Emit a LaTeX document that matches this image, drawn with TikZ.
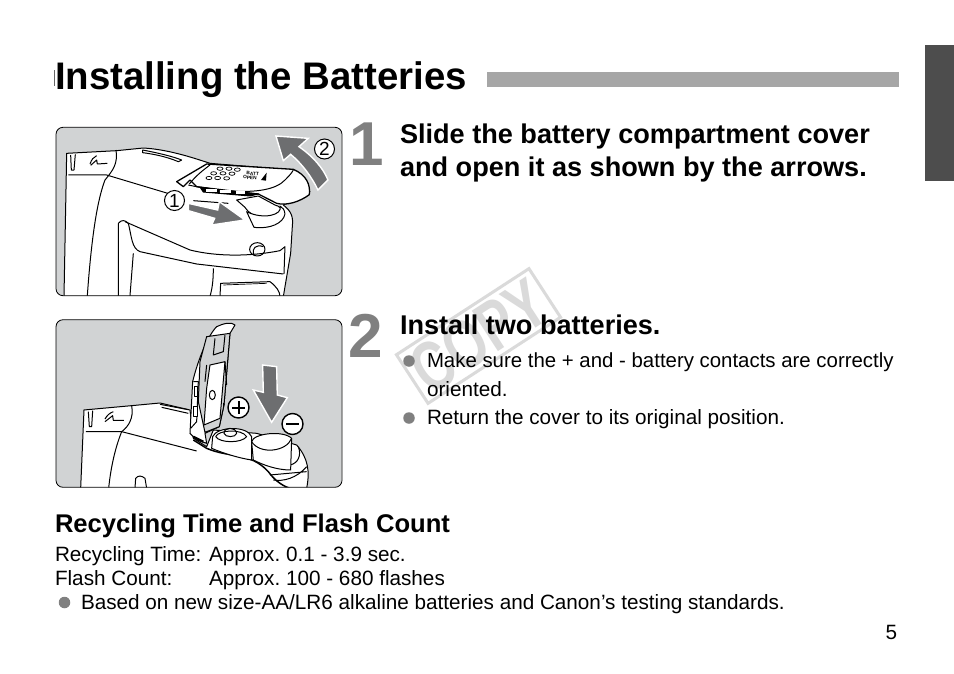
\documentclass[tikz,border=0pt]{standalone}
\usepackage{fontspec}
\setmainfont{Liberation Sans}
\newcommand{\fsz}[1]{\fontsize{#1pt}{#1pt}\selectfont}
\frenchspacing
\tikzset{
  txt/.style={anchor=base west,inner sep=0pt,outer sep=0pt,text=black},
  title/.style={txt,font=\fsz{38.4}\bfseries},
  head/.style={txt,font=\fsz{27.1}\bfseries},
  sub/.style={txt,font=\fsz{25.6}\bfseries},
  body/.style={txt,font=\fsz{20.7}},
  small/.style={txt,font=\fsz{20.7}},
  bignum/.style={anchor=base,inner sep=0pt,text=numgray,font=\fsz{62}\bfseries},
  bullet/.style={circle,fill=numgray,minimum size=11.5pt,inner sep=0pt},
  photo/.style={draw=black,line width=.8pt,fill=photogray,rounded corners=7pt},
  ink/.style={draw=black,line width=1pt,line join=round},
  thin/.style={draw=black,line width=.7pt,line join=round},
  arrowshape/.style={fill=arrowgray,draw=white,line width=1.4pt,line join=miter},
  circnum/.style={circle,draw=black,line width=1pt,fill=white,minimum size=20pt,inner sep=0pt,font=\fsz{19}},
  zoomA/.style={shift={(50,120)},x=.3333pt,y=-.3333pt},
  zoomB/.style={shift={(50,315)},x=.3333pt,y=-.3333pt},
}
\definecolor{numgray}{HTML}{808080}
\definecolor{photogray}{HTML}{D1D3D4}
\definecolor{arrowgray}{HTML}{6D6E70}
\definecolor{bargray}{HTML}{A6A6A6}
\definecolor{tabgray}{HTML}{4D4D4D}
\definecolor{wm}{HTML}{DADADA}
\begin{document}
\begin{tikzpicture}[x=1pt,y=-1pt]
\useasboundingbox (0,0) rectangle (954,673);
\fill[white] (0,0) rectangle (954,673);
% header
\fill[tabgray] (925,45) rectangle (954,181);
\fill[bargray] (487,72) rectangle (899,87);
\fill[black!60] (54,70) rectangle (55,86);
\node[title] (title) at (55,89) {Installing the Batteries};

% ---------- watermark
\begin{scope}[shift={(478.5,336)},rotate=33]
  \draw[wm,line width=3pt] (-79,-29) rectangle (79,29);
  \node[inner sep=0pt,text=wm,font=\fsz{70}\bfseries,rotate=33,xscale=.74] (copy) at (0,0) {COPY};
\end{scope}

% ---------- photo 1
\begin{scope}[zoomA]
  \path[clip,rounded corners=7pt] (18,22) rectangle (875,527);
  \fill[photogray] (18,22) rectangle (875,527);
  % body
  \path[ink,fill=white] (42,530) -- (50,100) -- (200,92) -- (280,84) .. controls (350,88) and (420,110) .. (480,130)
     -- (725,150) -- (780,215) -- (700,255) .. controls (725,275) and (730,290) .. (727,320)
     -- (722,400) -- (700,530) -- cycle;
  \draw[ink] (62,105) -- (64,150) -- (72,150) -- (76,103);
  \draw[ink] (55,165) -- (170,165) -- (380,228) (430,242) -- (535,250);
  \draw[ink] (198,90) .. controls (204,130) and (190,150) .. (165,180) .. controls (150,220) and (128,300) .. (112,527);
  \draw[ink] (278,90) .. controls (330,100) and (370,110) .. (395,120) -- (385,125) .. controls (350,110) and (310,102) .. (278,98) -- cycle;
  \draw[ink] (120,132) .. controls (125,118) and (130,112) .. (140,107) (122,136) -- (140,120) -- (142,132) -- (172,130);
  \draw[ink] (205,310) -- (205,527) (205,310) .. controls (215,298) and (225,300) .. (235,310)
     .. controls (245,350) and (245,385) .. (270,395) -- (440,432) -- (700,462);
  \draw[ink] (225,305) -- (420,390) .. controls (500,410) and (600,410) .. (690,392);
  \draw[ink] (250,400) -- (240,527) (490,445) .. controls (490,490) and (485,510) .. (480,530);
  \draw[ink] (510,530) -- (512,490) -- (660,485) .. controls (680,500) and (690,515) .. (690,530);
  \draw[thin] (520,495) -- (650,490);
  \draw[ink] (690,392) -- (705,380) -- (702,462);
  \draw[ink] (622,388) circle[x radius=23,y radius=20];
  \draw[ink] (610,403) .. controls (606,385) and (618,372) .. (640,380);
  % compartment opening
  \path[ink,fill=white] (585,262) .. controls (610,300) and (660,300) .. (690,280) .. controls (700,270) and (690,258) .. (675,255)
     -- (625,228) -- (560,240) -- cycle;
  \path[ink,fill=white] (590,275) -- (612,322) .. controls (660,328) and (700,310) .. (705,282) .. controls (704,270) and (698,262) .. (690,258)
     .. controls (700,285) and (640,300) .. (590,275) -- cycle;
  % cover
  \path[ink,fill=white,line width=1.3pt] (380,185) -- (470,132) -- (730,148) .. controls (770,165) and (782,195) .. (778,224)
      .. controls (750,245) and (710,258) .. (680,250) -- (625,222) -- (520,212) -- (440,200) -- (420,180) -- (400,200) -- cycle;
  \draw[ink] (418,192) .. controls (440,165) and (460,150) .. (480,135);
  \draw[ink] (415,195) .. controls (460,205) and (650,240) .. (705,180) .. controls (715,170) and (725,160) .. (730,150);
  \path[ink,fill=black] (450,201) -- (625,222) -- (600,228) -- (460,216) -- cycle;
  \path[draw=white,fill=white] (470,208) rectangle (500,214) (510,211) rectangle (540,217) (560,213) rectangle (582,219);
  \draw[thin] (510,146) ellipse[x radius=9,y radius=5] (537,146) ellipse[x radius=9,y radius=5] (562,149) ellipse[x radius=9,y radius=5]
     (491,160) ellipse[x radius=9,y radius=5] (519,160) ellipse[x radius=9,y radius=5] (546,161) ellipse[x radius=9,y radius=5]
     (477,174) ellipse[x radius=9,y radius=5] (503,174) ellipse[x radius=9,y radius=5] (530,175) ellipse[x radius=9,y radius=5];
  \node[inner sep=0pt,font=\fsz{4.8}\bfseries,rotate=-4] (batt) at (608,161) {BATT};
  \node[inner sep=0pt,font=\fsz{4.8}\bfseries,rotate=-4] (open) at (600,173) {OPEN};
  \fill[black] (633,180) -- (650,158) -- (648,182) -- cycle;
  % arrows
  \path[arrowshape] (415,250) -- (503,270) -- (508,245) -- (585,300) -- (485,315) -- (494,295) -- (415,272) -- cycle;
  \path[arrowshape] (678,48) -- (775,55) -- (747,80) .. controls (790,110) and (820,145) .. (834,180) -- (804,210)
     .. controls (785,170) and (755,130) .. (722,103) -- (700,122) -- cycle;
\end{scope}
\draw[black,line width=.8pt,rounded corners=7pt] (56,127.3) rectangle (342,295.7);
\node[circnum] (n1) at (174.5,200.5) {1};
\node[circnum] (n2) at (324.5,149) {2};

% ---------- photo 2
\begin{scope}[zoomB]
  \path[clip,rounded corners=7pt] (18,14) rectangle (875,517);
  \fill[photogray] (18,14) rectangle (875,517);
  % body
  \path[ink,fill=white] (92,520) -- (102,285) -- (245,272) -- (330,264) -- (420,285) -- (430,370) -- (470,395)
     -- (490,345) -- (620,355) -- (740,390) .. controls (775,430) and (780,470) .. (770,520) -- cycle;
  \draw[ink] (115,290) -- (118,335) -- (125,335) -- (128,287);
  \draw[ink] (108,350) -- (215,350) -- (440,408);
  \draw[ink] (245,272) .. controls (252,310) and (235,335) .. (215,350) .. controls (195,400) and (182,460) .. (176,520);
  \draw[ink] (330,268) -- (415,284) (335,277) -- (415,295);
  \draw[ink] (165,312) .. controls (172,300) and (178,295) .. (190,290) (165,320) -- (188,302) -- (190,316) -- (222,316);
  \draw[ink] (255,520) -- (257,490) .. controls (265,480) and (275,482) .. (285,490) -- (290,520);
  \draw[ink,line width=1.5pt] (430,375) -- (470,400) .. controls (540,430) and (600,410) .. (655,470) .. controls (670,490) and (690,510) .. (720,520);
  \draw[ink] (660,480) -- (770,470) (670,495) .. controls (700,500) and (740,490) .. (770,455);
  \draw[ink] (720,450) .. controls (745,445) and (755,420) .. (745,395);
  % batteries
  \path[ink,fill=white] (485,400) -- (488,365) .. controls (500,335) and (590,330) .. (605,365) -- (605,435) .. controls (570,430) and (520,415) .. (485,400) -- cycle;
  \draw[ink] (497,365) .. controls (505,345) and (575,340) .. (590,365) .. controls (575,385) and (510,385) .. (497,365) -- cycle;
  \draw[ink] (522,355) .. controls (522,335) and (558,335) .. (560,355) .. controls (558,368) and (525,368) .. (522,355) -- cycle;
  \path[ink,fill=white] (605,380) .. controls (610,355) and (700,345) .. (725,370) -- (722,465) .. controls (680,465) and (640,450) .. (610,435) -- cycle;
  \draw[ink] (605,380) .. controls (630,420) and (710,410) .. (725,370);
  % cover
  \path[ink,fill=white] (420,355) -- (428,200) .. controls (445,130) and (475,60) .. (500,35) .. controls (520,25) and (545,20) .. (555,30)
     -- (540,55) -- (522,270) -- (508,335) -- (465,355) -- (470,385) -- (440,375) -- cycle;
  \path[ink,fill=photogray] (470,65) -- (540,55) -- (522,270) -- (508,335) -- (465,352) -- (445,260) -- (450,140) -- cycle;
  \path[ink,fill=white] (480,150) -- (525,140) -- (510,310) -- (462,330) -- (470,220) -- cycle;
  \draw[ink] (487,240) circle[x radius=9,y radius=14];
  \draw[ink] (495,70) -- (490,120) -- (520,110) -- (525,60);
  \draw[ink] (430,200) -- (445,200) -- (440,320) -- (422,340);
  \path[ink,fill=white] (433,215) rectangle (443,245) (432,275) rectangle (442,305);
  \draw[ink] (470,150) -- (465,200) (525,140) -- (530,210);
  \draw[ink,line width=2.2pt] (430,365) -- (460,380);
  \fill[black] (518,265) rectangle (523,272);
  % arrow
  \path[arrowshape] (638,150) -- (680,155) -- (682,240) -- (712,248) -- (665,322) -- (610,225) -- (640,232) -- cycle;
\end{scope}
\draw[black,line width=.8pt,rounded corners=7pt] (56,319.7) rectangle (342,487.3);
\node[circnum,minimum size=21pt,line width=1.4pt] (plus) at (238.5,407.5) {};
\draw[line width=2pt] (232,407.5) -- (245,407.5) (238.5,401) -- (238.5,414);
\node[circnum,minimum size=21pt,line width=1.4pt] (minus) at (292.5,424) {};
\draw[line width=2pt] (286,424) -- (299,424);

% ---------- step text
\node[bignum] (d1) at (367,165) {1};
\node[bignum] (d2) at (366,357) {2};
\node[head] (s1a) at (400,143) {Slide the battery compartment cover};
\node[head] (s1b) at (400,176) {and open it as shown by the arrows.};
\node[head] (s2) at (400,334) {Install two batteries.};
\node[bullet] (b1) at (409,361) {};
\node[body,font=\fsz{20.4}] (l1) at (427,367) {Make sure the + and - battery contacts are correctly};
\node[body] (l2) at (427,396) {oriented.};
\node[bullet] (b2) at (409,418) {};
\node[body] (l3) at (427,424) {Return the cover to its original position.};

% ---------- recycling
\node[sub] (rh) at (55,532) {Recycling Time and Flash Count};
\node[small] (r1a) at (55,561) {Recycling Time:};
\node[small] (r1b) at (209,561) {Approx. 0.1 - 3.9 sec.};
\node[small] (r2a) at (55,585) {Flash Count:};
\node[small] (r2b) at (209,585) {Approx. 100 - 680 flashes};
\node[bullet] (b3) at (64.5,602.5) {};
\node[small] (r3) at (81,609) {Based on new size-AA/LR6 alkaline batteries and Canon’s testing standards.};
\node[txt,font=\fsz{20.7}] (pg) at (885.5,639) {5};
\end{tikzpicture}
\end{document}
